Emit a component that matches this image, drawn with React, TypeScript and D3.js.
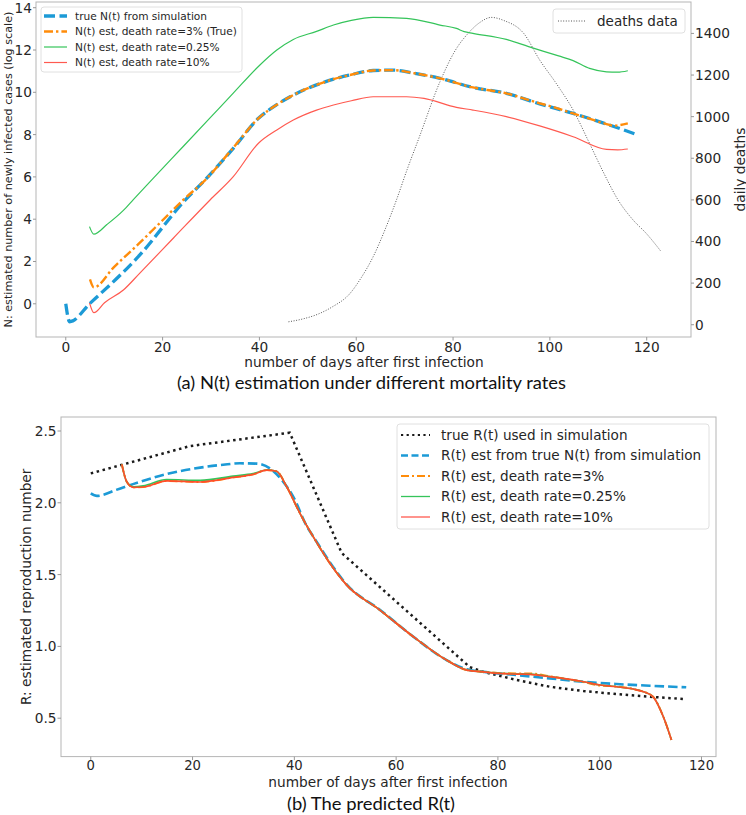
import React from 'react';
import * as d3 from 'd3';

// ---------- Panel (a): N(t) ----------
const trueNDays = [0, 0.8, 5, 15.3, 25, 28.4, 34.6, 39.8, 43.5, 47, 51.8, 55.3, 58.7, 63.5, 67.6, 72, 77.3, 84.1, 91, 97.9, 104.8, 111.7, 118.2];
const trueNVals = [0, -0.85, 0.02, 2.31, 4.99, 5.77, 7.35, 8.77, 9.4, 9.87, 10.35, 10.62, 10.82, 11.03, 11.05, 10.9, 10.66, 10.23, 9.95, 9.45, 9.0, 8.5, 7.98];

const est3Days = [5, 5.8, 10, 15.3, 20, 24.3, 28.8, 34.6, 39.8, 43.5, 47, 51.8, 55.3, 58.7, 63.5, 67.6, 72, 77.3, 84.1, 91, 97.9, 100, 104.8, 111.7, 113, 116.1];
const est3Vals = [1.16, 0.78, 1.75, 2.89, 3.95, 4.92, 5.85, 7.38, 8.77, 9.4, 9.87, 10.35, 10.62, 10.82, 11.03, 11.05, 10.9, 10.66, 10.23, 9.95, 9.48, 9.35, 9.0, 8.5, 8.42, 8.53];

const est025Days = [4.9, 5.8, 8.5, 11.9, 14, 18.1, 24.3, 29.8, 34.6, 40, 43.6, 47, 51.8, 55.3, 59, 63.5, 70.4, 77.3, 80.7, 82.3, 84.1, 91, 95.6, 101.8, 104.8, 108.2, 111.7, 114, 116.1];
const est025Vals = [3.65, 3.29, 3.75, 4.42, 4.94, 5.94, 7.45, 8.79, 9.96, 11.27, 12.0, 12.5, 12.88, 13.18, 13.4, 13.54, 13.5, 13.18, 13.02, 12.87, 12.79, 12.5, 12.16, 11.72, 11.5, 11.13, 10.97, 10.95, 11.02];

const est10Days = [4.9, 5.8, 8, 11.9, 15.3, 22.2, 29.8, 34.6, 39.8, 43.6, 47, 51.8, 55.3, 59, 63.5, 70.4, 74, 80.7, 84.1, 91, 97.9, 104.8, 111.7, 114, 116.1];
const est10Vals = [0.05, -0.42, 0.05, 0.65, 1.45, 3.1, 4.91, 6.01, 7.59, 8.22, 8.69, 9.16, 9.4, 9.6, 9.79, 9.79, 9.71, 9.29, 9.16, 8.85, 8.41, 7.9, 7.3, 7.28, 7.32];

const deathDays = [46, 49, 52, 55, 58.7, 61, 63.5, 66, 68.3, 70.5, 73, 77.3, 80.5, 83.1, 85.5, 87.9, 90.5, 94.6, 97.9, 101.3, 104.8, 108.2, 111, 114.1, 117.2, 119.9, 123];
const deathVals = [14, 28, 50, 85, 150, 225, 327, 460, 599, 745, 900, 1168, 1320, 1400, 1452, 1477, 1462, 1400, 1272, 1160, 1032, 871, 735, 599, 503, 439, 351];

const aXTicks = [0, 20, 40, 60, 80, 100, 120];
const aYTicks = [0, 2, 4, 6, 8, 10, 12, 14];
const aDeathTicks = [0, 200, 400, 600, 800, 1000, 1200, 1400];

// ---------- Panel (b): R(t) ----------
const trueRDays = [0, 19.5, 39.1, 49.3, 74.5, 77.1, 83.7, 90.2, 96.8, 103.3, 109.9, 116.8];
const trueRVals = [2.205, 2.395, 2.488, 1.65, 0.855, 0.823, 0.766, 0.719, 0.689, 0.668, 0.649, 0.633];

const rTrueNDays = [0, 1.2, 5, 8.3, 14.9, 21.5, 26, 29.3, 32.6, 35.2, 37.8, 39.8, 42.4, 44, 47, 50.3, 56.8, 63.4, 69.9, 73.9, 77.1, 83.7, 90.2, 96.8, 103.3, 109.9, 117];
const rTrueNVals = [2.066, 2.048, 2.09, 2.13, 2.2, 2.245, 2.265, 2.275, 2.273, 2.24, 2.147, 2.042, 1.84, 1.75, 1.585, 1.43, 1.255, 1.067, 0.905, 0.84, 0.823, 0.8, 0.777, 0.754, 0.738, 0.726, 0.715];

const rEstDays = [6.1, 7.06, 8.35, 10.3, 14.9, 21.5, 28, 31.9, 34.6, 36.5, 38.5, 41.1, 43.7, 47, 50.3, 56.8, 63.4, 69.9, 73.9, 77.1, 80, 83.7, 86.3, 90.2, 96.8, 100.1, 103.3, 106.6, 108.6, 110.5, 112.5, 114.1];
const rEst3Vals = [2.268, 2.147, 2.108, 2.11, 2.152, 2.145, 2.177, 2.198, 2.228, 2.22, 2.112, 1.927, 1.764, 1.578, 1.427, 1.253, 1.067, 0.905, 0.835, 0.823, 0.815, 0.812, 0.812, 0.792, 0.752, 0.727, 0.721, 0.703, 0.684, 0.649, 0.51, 0.348];
const rEst025Vals = [2.268, 2.147, 2.112, 2.118, 2.162, 2.156, 2.186, 2.203, 2.228, 2.22, 2.112, 1.927, 1.764, 1.578, 1.427, 1.253, 1.067, 0.905, 0.835, 0.823, 0.813, 0.809, 0.807, 0.79, 0.754, 0.731, 0.719, 0.703, 0.684, 0.649, 0.51, 0.348];
const rEst10Vals = [2.268, 2.147, 2.108, 2.11, 2.152, 2.145, 2.177, 2.198, 2.228, 2.22, 2.112, 1.927, 1.764, 1.578, 1.427, 1.253, 1.067, 0.905, 0.835, 0.823, 0.812, 0.807, 0.805, 0.789, 0.754, 0.731, 0.719, 0.703, 0.684, 0.649, 0.51, 0.348];

const bXTicks = [0, 20, 40, 60, 80, 100, 120];
const bYTicks = [0.5, 1.0, 1.5, 2.0, 2.5];

const legendA = ['true N(t) from simulation', 'N(t) est, death rate=3% (True)', 'N(t) est, death rate=0.25%', 'N(t) est, death rate=10%'];
const legendB = ['true R(t) used in simulation', 'R(t) est from true N(t) from simulation', 'R(t) est, death rate=3%', 'R(t) est, death rate=0.25%', 'R(t) est, death rate=10%'];

const FONT = "'DejaVu Sans', sans-serif";
const CAP_FONT = "Lato, 'Open Sans', sans-serif";
const TXT = '#262626';
const SPINE = '#b5b5b5';
const BLUE = '#1c9ad6';
const ORANGE = '#ff8c0a';
const GREEN = '#35c45a';
const RED = '#ff5a50';
const RED_B = '#ff4d2a';

type Curve = d3.CurveFactory;
function mkPath(xs: number[], ys: number[], x: (v: number) => number, y: (v: number) => number, curve: Curve) {
  const pts: [number, number][] = xs.map((d, i) => [d, ys[i]]);
  return d3.line<[number, number]>().x(p => x(p[0])).y(p => y(p[1])).curve(curve)(pts) || '';
}

export default function App() {
  // panel (a) scales
  const aL = 36, aR = 691, aT = 2, aB = 337;
  const xA = d3.scaleLinear().domain([-6.15, 129.15]).range([aL, aR]);
  const yA = d3.scaleLinear().domain([-1.57, 14.27]).range([aB, aT]);
  const yD = d3.scaleLinear().domain([-59, 1551]).range([aB, aT]);

  // panel (b) scales
  const bL = 61, bR = 716, bT = 417, bB = 756.6;
  const xB = d3.scaleLinear().domain([-5.85, 122.85]).range([bL, bR]);
  const yB = d3.scaleLinear().domain([0.2325, 2.5975]).range([bB, bT]);

  const lin = d3.curveLinear;
  const mono = d3.curveMonotoneX;

  const legAY = [16, 31.5, 47, 62.5];
  const legBY = [435, 455.5, 476, 496.5, 517];

  return (
    <svg width={746} height={815} style={{ position: 'absolute', left: 0, top: 0, background: '#fff' }} fontFamily={FONT}>
      <rect x={0} y={0} width={746} height={815} fill="#fff" />
      {/* ===== Panel (a) ===== */}
      <g>
        <clipPath id="clipA"><rect x={aL} y={aT} width={aR - aL} height={aB - aT} /></clipPath>
        <g clipPath="url(#clipA)">
          <path d={mkPath(deathDays, deathVals, xA, yD, mono)} fill="none" stroke="#555" strokeWidth={1} strokeDasharray="1,1.6" />
          <path d={mkPath(est025Days, est025Vals, xA, yA, mono)} fill="none" stroke={GREEN} strokeWidth={1.2} />
          <path d={mkPath(est10Days, est10Vals, xA, yA, mono)} fill="none" stroke={RED} strokeWidth={1.2} />
          <path d={mkPath(trueNDays, trueNVals, xA, yA, mono)} fill="none" stroke={BLUE} strokeWidth={3.3} strokeDasharray="11,4.5" />
          <path d={mkPath(est3Days, est3Vals, xA, yA, mono)} fill="none" stroke={ORANGE} strokeWidth={2.4} strokeDasharray="9,3,2.4,3" />
        </g>
        <rect x={aL} y={aT} width={aR - aL} height={aB - aT} fill="none" stroke={SPINE} strokeWidth={1} />
        {aXTicks.map(t => (
          <g key={'ax' + t}>
            <line x1={xA(t)} x2={xA(t)} y1={aB} y2={aB + 3.5} stroke="#999" />
            <text x={xA(t)} y={351.5} textAnchor="middle" fontSize={13.7} fill={TXT}>{t}</text>
          </g>
        ))}
        {aYTicks.map(t => (
          <g key={'ay' + t}>
            <line x1={aL - 3} x2={aL} y1={yA(t)} y2={yA(t)} stroke="#999" />
            <text x={32} y={yA(t)} dy="0.36em" textAnchor="end" fontSize={13.7} fill={TXT}>{t}</text>
          </g>
        ))}
        {aDeathTicks.map(t => (
          <g key={'ad' + t}>
            <line x1={aR} x2={aR + 3} y1={yD(t)} y2={yD(t)} stroke="#999" />
            <text x={695} y={yD(t)} dy="0.36em" textAnchor="start" fontSize={13.7} fill={TXT}>{t}</text>
          </g>
        ))}
        <text x={364} y={367} textAnchor="middle" fontSize={13.7} fill={TXT}>number of days after first infection</text>
        <text transform={`translate(11.5,${(aT + aB) / 2}) rotate(-90)`} textAnchor="middle" fontSize={11.2} fill={TXT}>N: estimated number of newly infected cases (log scale)</text>
        <text transform={`translate(744.5,${(aT + aB) / 2}) rotate(-90)`} textAnchor="middle" fontSize={13.7} fill={TXT}>daily deaths</text>

        {/* legend (a) */}
        <rect x={41} y={7} width={201} height={65} rx={3} fill="#fff" fillOpacity={0.85} stroke="#e0e0e0" />
        <line x1={44} x2={67} y1={legAY[0]} y2={legAY[0]} stroke={BLUE} strokeWidth={3.3} strokeDasharray="11,4.5" />
        <line x1={44} x2={67} y1={legAY[1]} y2={legAY[1]} stroke={ORANGE} strokeWidth={2.4} strokeDasharray="9,3,2.4,3" />
        <line x1={44} x2={67} y1={legAY[2]} y2={legAY[2]} stroke={GREEN} strokeWidth={1.2} />
        <line x1={44} x2={67} y1={legAY[3]} y2={legAY[3]} stroke={RED} strokeWidth={1.2} />
        {legendA.map((s, i) => (
          <text key={s} x={75} y={legAY[i]} dy="0.36em" fontSize={10.6} fill={TXT}>{s}</text>
        ))}
        <rect x={553} y={9} width={132} height={24} rx={3} fill="#fff" fillOpacity={0.85} stroke="#e0e0e0" />
        <line x1={558} x2={586} y1={21} y2={21} stroke="#555" strokeWidth={1} strokeDasharray="1,1.6" />
        <text x={597} y={21} dy="0.36em" fontSize={13.5} fill={TXT}>deaths data</text>

        <text x={371.5} y={389} textAnchor="middle" fontSize={17} fontFamily={CAP_FONT} fill="#111" textLength={389} lengthAdjust="spacingAndGlyphs">(a) N(t) estimation under different mortality rates</text>
      </g>

      {/* ===== Panel (b) ===== */}
      <g>
        <clipPath id="clipB"><rect x={bL} y={bT} width={bR - bL} height={bB - bT} /></clipPath>
        <g clipPath="url(#clipB)">
          <path d={mkPath(trueRDays, trueRVals, xB, yB, lin)} fill="none" stroke="#1a1a1a" strokeWidth={2.5} strokeDasharray="2.5,3.6" />
          <path d={mkPath(rTrueNDays, rTrueNVals, xB, yB, mono)} fill="none" stroke={BLUE} strokeWidth={2.6} strokeDasharray="9.5,4" />
          <path d={mkPath(rEstDays, rEst3Vals, xB, yB, mono)} fill="none" stroke={ORANGE} strokeWidth={2} strokeDasharray="8,3,2,3" />
          <path d={mkPath(rEstDays, rEst025Vals, xB, yB, mono)} fill="none" stroke={GREEN} strokeWidth={1.6} />
          <path d={mkPath(rEstDays, rEst10Vals, xB, yB, mono)} fill="none" stroke={RED_B} strokeWidth={1.7} />
        </g>
        <rect x={bL} y={bT} width={bR - bL} height={bB - bT} fill="none" stroke={SPINE} strokeWidth={1} />
        {bXTicks.map(t => (
          <g key={'bx' + t}>
            <line x1={xB(t)} x2={xB(t)} y1={bB} y2={bB + 3.5} stroke="#999" />
            <text x={xB(t)} y={769.5} textAnchor="middle" fontSize={13.2} fill={TXT}>{t}</text>
          </g>
        ))}
        {bYTicks.map(t => (
          <g key={'by' + t}>
            <line x1={bL - 3.5} x2={bL} y1={yB(t)} y2={yB(t)} stroke="#999" />
            <text x={56.5} y={yB(t)} dy="0.36em" textAnchor="end" fontSize={13.7} fill={TXT}>{t.toFixed(1)}</text>
          </g>
        ))}
        <text x={388} y={786.5} textAnchor="middle" fontSize={13.7} fill={TXT}>number of days after first infection</text>
        <text transform={`translate(31,${(bT + bB) / 2}) rotate(-90)`} textAnchor="middle" fontSize={13.7} fill={TXT}>R: estimated reproduction number</text>

        {/* legend (b) */}
        <rect x={397} y={424} width={312} height={105} rx={3} fill="#fff" fillOpacity={0.85} stroke="#e0e0e0" />
        <line x1={401} x2={430} y1={legBY[0]} y2={legBY[0]} stroke="#1a1a1a" strokeWidth={2.2} strokeDasharray="2.2,3.4" />
        <line x1={401} x2={430} y1={legBY[1]} y2={legBY[1]} stroke={BLUE} strokeWidth={2.6} strokeDasharray="7,3.5" />
        <line x1={401} x2={430} y1={legBY[2]} y2={legBY[2]} stroke={ORANGE} strokeWidth={2} strokeDasharray="8,3,2,3" />
        <line x1={401} x2={430} y1={legBY[3]} y2={legBY[3]} stroke={GREEN} strokeWidth={1.3} />
        <line x1={401} x2={430} y1={legBY[4]} y2={legBY[4]} stroke={RED} strokeWidth={1.3} />
        {legendB.map((s, i) => (
          <text key={s} x={441} y={legBY[i]} dy="0.36em" fontSize={13.6} fill={TXT}>{s}</text>
        ))}

        <text x={371} y={810} textAnchor="middle" fontSize={17} fontFamily={CAP_FONT} fill="#111" textLength={168} lengthAdjust="spacingAndGlyphs">(b) The predicted R(t)</text>
      </g>
    </svg>
  );
}
